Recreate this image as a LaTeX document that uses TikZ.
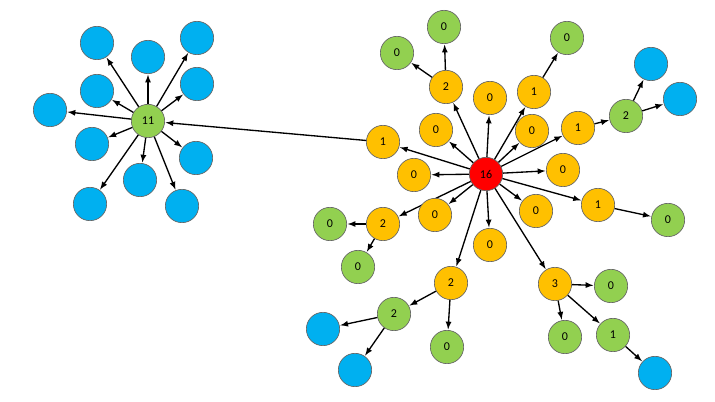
\documentclass[tikz,border=0pt]{standalone}
\usepackage{fontspec}
\setmainfont{Carlito}
\begin{document}
\begin{tikzpicture}[x=0.75pt,y=-0.75pt,
  base/.style={circle,draw=black!60,line width=0.5pt,minimum size=25pt,inner sep=0pt,font=\small},
  bl/.style={base,fill={rgb,255:red,0;green,176;blue,240}},
  gr/.style={base,fill={rgb,255:red,146;green,208;blue,80}},
  og/.style={base,fill={rgb,255:red,255;green,192;blue,0}},
  rd/.style={base,fill=red},
  ar/.style={-latex,line width=1pt,shorten >=0.5pt}]
\useasboundingbox (0,0) rectangle (715,402);
% left cluster
\node[gr] (e) at (148,121) {11};
\foreach \n/\x/\y in {b1/97/43,b2/148/57,b3/197/38,b4/97/91,b5/197/84,b6/50/110,b7/92/144,b8/196/158,b9/140/180,b10/90/204,b11/182/206}{
  \node[bl] (\n) at (\x,\y) {};
  \draw[ar] (e) -- (\n);
}
% center
\node[rd] (c) at (486,174) {16};
\foreach \n/\x/\y/\t in {o1/446/87/2,o2/490/98/0,o3/534/92/1,o4/436/130/0,o5/532/131/0,o6/578/128/1,o7/383/142/1,o8/414/175/0,o9/563/170/0,o10/598/205/1,o11/383/224/2,o12/435/215/0,o13/536/211/0,o14/490/245/0,o15/451/283/2,o16/555/284/3}{
  \node[og] (\n) at (\x,\y) {\t};
  \draw[ar] (c) -- (\n);
}
\draw[ar] (o7) -- (e);
% green children
\foreach \p/\n/\x/\y/\t in {o1/g1/444/27/0,o1/g2/397/53/0,o3/g3/567/38/0,o6/g4/626/116/2,o10/g5/668/220/0,o11/g6/330/224/0,o11/g7/358/267/0,o15/g8/394/314/2,o15/g9/447/347/0,o16/g10/611/286/0,o16/g11/565/337/0,o16/g12/613/335/1}{
  \node[gr] (\n) at (\x,\y) {\t};
  \draw[ar] (\p) -- (\n);
}
% blue leaves
\foreach \p/\n/\x/\y in {g4/l1/651/64,g4/l2/680/99,g8/l3/323/329,g8/l4/355/370,g12/l5/655/373}{
  \node[bl] (\n) at (\x,\y) {};
  \draw[ar] (\p) -- (\n);
}
\end{tikzpicture}
\end{document}
